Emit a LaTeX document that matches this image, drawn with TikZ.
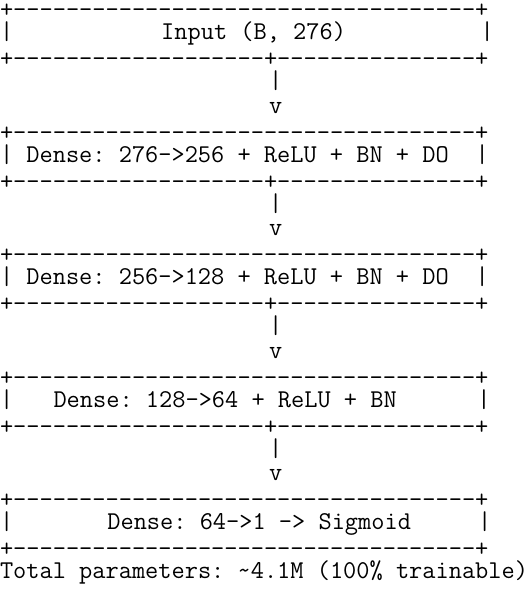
\documentclass[tikz,border=0pt]{standalone}
\usepackage{fontspec}
\usepackage{tikz}
\usetikzlibrary{positioning}

% runs of dashes and blanks, one column each
\newcommand{\dashrun}[1]{\foreach \i in {1,...,#1}{-}}
\newcommand{\blank}[1]{\hspace*{#1\dimexpr0.525em\relax}}

\tikzset{
    ascii/.style={anchor=base west, inner sep=0pt, outer sep=0pt,
        font=\ttfamily\fontsize{13.85pt}{13.23pt}\selectfont\frenchspacing},
    border/.style={ascii, yshift=-1.35pt}
}

\begin{document}
\begin{tikzpicture}[x=1pt, y=-13.23pt]
    % Page size
    \useasboundingbox (0,0.37) rectangle (284.2,24.467);

    % Input box
    \node[border] (topIn) at (0,1) {+\dashrun{35}+};
    \node[ascii] (boxIn) at (0,2) {|\blank{11}Input (B, 276)\blank{10}|};
    \node[border] (botIn) at (0,3) {+\dashrun{19}+\dashrun{15}+};
    \node[ascii] (pipe1) at (0,4) {\blank{20}|};
    \node[ascii] (arrow1) at (0,5) {\blank{20}v};

    % First dense layer
    \node[border] (topD1) at (0,6) {+\dashrun{35}+};
    \node[ascii] (boxD1) at (0,7) {| Dense: 276->256 + ReLU + BN + DO\blank{2}|};
    \node[border] (botD1) at (0,8) {+\dashrun{19}+\dashrun{15}+};
    \node[ascii] (pipe2) at (0,9) {\blank{20}|};
    \node[ascii] (arrow2) at (0,10) {\blank{20}v};

    % Second dense layer
    \node[border] (topD2) at (0,11) {+\dashrun{35}+};
    \node[ascii] (boxD2) at (0,12) {| Dense: 256->128 + ReLU + BN + DO\blank{2}|};
    \node[border] (botD2) at (0,13) {+\dashrun{19}+\dashrun{15}+};
    \node[ascii] (pipe3) at (0,14) {\blank{20}|};
    \node[ascii] (arrow3) at (0,15) {\blank{20}v};

    % Third dense layer
    \node[border] (topD3) at (0,16) {+\dashrun{35}+};
    \node[ascii] (boxD3) at (0,17) {|\blank{3}Dense: 128->64 + ReLU + BN\blank{6}|};
    \node[border] (botD3) at (0,18) {+\dashrun{19}+\dashrun{15}+};
    \node[ascii] (pipe4) at (0,19) {\blank{20}|};
    \node[ascii] (arrow4) at (0,20) {\blank{20}v};

    % Output layer
    \node[border] (topOut) at (0,21) {+\dashrun{35}+};
    \node[ascii] (boxOut) at (0,22) {|\blank{7}Dense: 64->1 -> Sigmoid\blank{5}|};
    \node[border] (botOut) at (0,23) {+\dashrun{35}+};

    % Summary
    \node[ascii] (total) at (0,24) {Total parameters: \textasciitilde 4.1M (100\% trainable)};
\end{tikzpicture}
\end{document}
